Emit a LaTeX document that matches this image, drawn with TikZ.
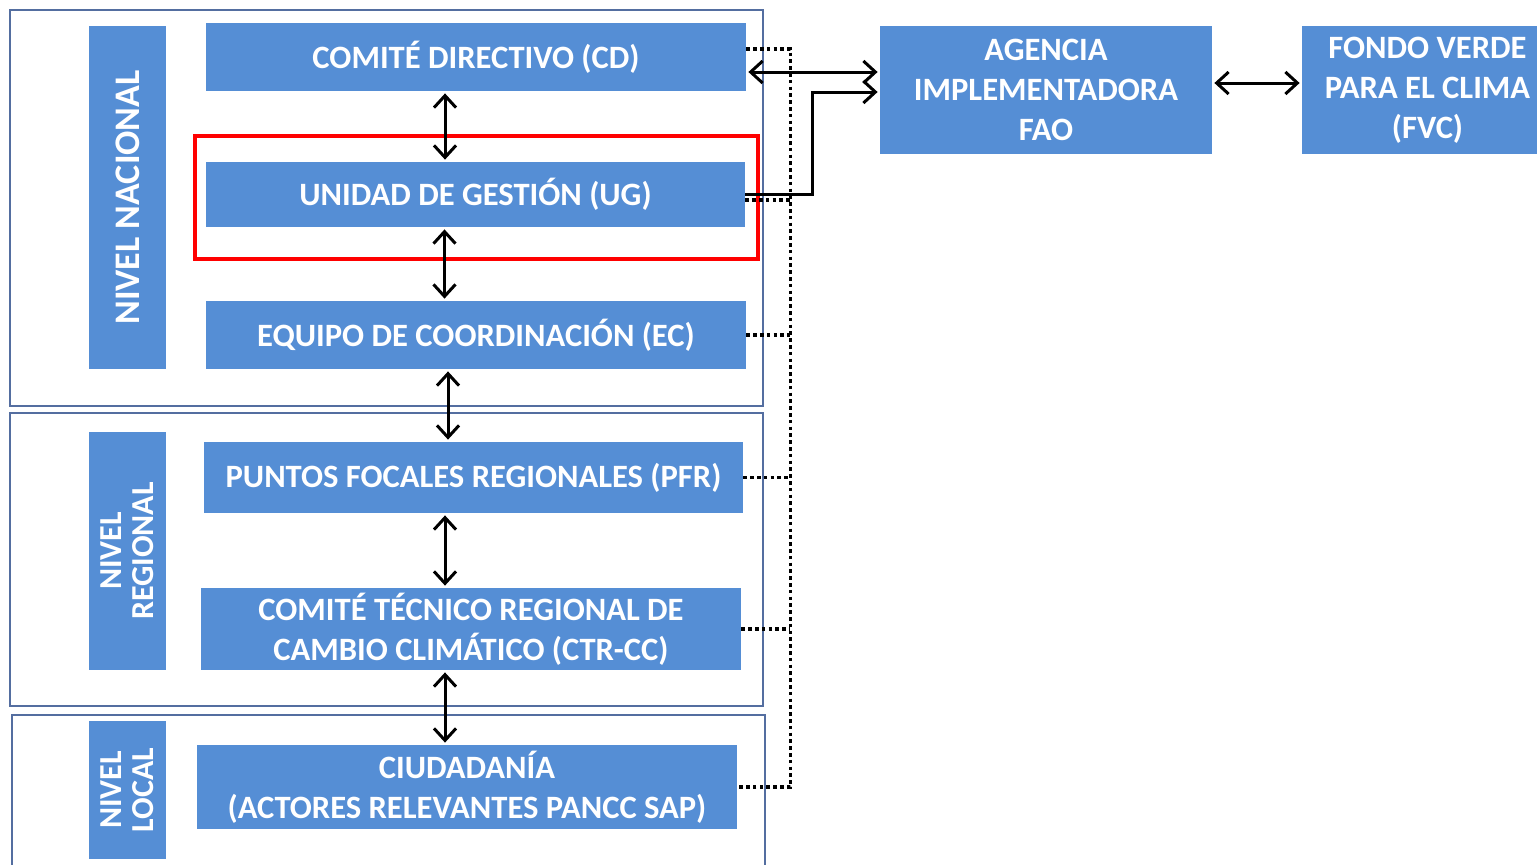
\documentclass[tikz,border=0pt]{standalone}
\usepackage{fontspec}
\setmainfont{Carlito}
\usetikzlibrary{arrows.meta}

\definecolor{azul}{RGB}{85,142,213}
\definecolor{marco}{RGB}{84,110,160}

\begin{document}
\begin{tikzpicture}[x=0.5pt,y=-0.5pt,line cap=butt]
	\tikzset{caja/.style={fill=azul,text=white,font=\bfseries\fontsize{16.3}{20}\selectfont,align=center,inner sep=0pt}};
	\tikzset{nivel/.style={caja,rotate=90,minimum height=38.5pt,font=\bfseries\fontsize{16}{16}\selectfont}};
	\tikzset{punta/.style={Straight Barb[length=6pt,width=11pt]}};
	\tikzset{flecha/.style={{Straight Barb[length=6pt,width=11pt]}-{Straight Barb[length=6pt,width=11pt]},line width=1.5pt,shorten <=1pt,shorten >=1pt}};
	\tikzset{punteado/.style={line width=1.8pt,dash pattern=on 1.8pt off 1.6pt}};
	\useasboundingbox (0,0) rectangle (1537,864);
	%% frames
	\draw[marco,line width=0.8pt] (10,10) rectangle (763,406);
	\draw[marco,line width=0.8pt] (10,413) rectangle (763,706);
	\draw[marco,line width=0.8pt] (12,870) -- (12,715) -- (765,715) -- (765,870);
	%% levels
	\node[nivel,minimum width=171.5pt,font=\bfseries\fontsize{18}{18}\selectfont] (nac) at (127.5,197.5) {NIVEL NACIONAL};
	\node[nivel,minimum width=119pt] (reg) at (127.5,551) {NIVEL\\REGIONAL};
	\node[nivel,minimum width=69pt] (loc) at (127.5,790) {NIVEL\\LOCAL};
	%% boxes
	\node[caja,minimum width=270pt,minimum height=34pt] (cd) at (476,57) {COMITÉ DIRECTIVO (CD)};
	\node[caja,minimum width=269.5pt,minimum height=32.5pt] (ug) at (475.5,194.5) {UNIDAD DE GESTIÓN (UG)};
	\node[caja,minimum width=270pt,minimum height=34pt] (ec) at (476,335) {EQUIPO DE COORDINACIÓN (EC)};
	\node[caja,minimum width=269.5pt,minimum height=35.5pt] (pfr) at (473.5,477.5) {PUNTOS FOCALES REGIONALES (PFR)};
	\node[caja,minimum width=270pt,minimum height=41pt] (ctr) at (471,629) {COMITÉ TÉCNICO REGIONAL DE\\CAMBIO CLIMÁTICO (CTR-CC)};
	\node[caja,minimum width=270pt,minimum height=42pt] (ciu) at (467,787) {CIUDADANÍA\\(ACTORES RELEVANTES PANCC SAP)};
	\node[caja,minimum width=166pt,minimum height=64pt] (ag) at (1046,90) {AGENCIA\\IMPLEMENTADORA\\FAO};
	\node[caja,minimum width=117.5pt,minimum height=64pt] (fvc) at (1419.5,90) {\hspace*{8pt}FONDO VERDE\\\hspace*{8pt}PARA EL CLIMA\\\hspace*{8pt}(FVC)};
	%% highlight
	\draw[red,line width=2.3pt] (195,136) rectangle (758,259);
	%% dotted bus
	\draw[punteado] ([yshift=4pt]cd.east) -- ++(22pt,0) coordinate (bt) -- (bt |- ciu.east) -- (ciu.east);
	\draw[punteado] ([yshift=-2.75pt]ug.east) -- ([yshift=-2.75pt]ug.east -| bt);
	\draw[punteado] (ec.east) -- (ec.east -| bt);
	\draw[punteado] (pfr.east) -- (pfr.east -| bt);
	\draw[punteado] (ctr.east) -- (ctr.east -| bt);
	%% vertical links
	\draw[flecha] ([xshift=-15.5pt]cd.south) -- ([xshift=-15.5pt]cd.south |- ug.north);
	\draw[flecha] ([xshift=-15.5pt]ug.south) -- ([xshift=-15.5pt]ug.south |- ec.north);
	\draw[flecha] ([xshift=-14pt]ec.south) -- ([xshift=-14pt]ec.south |- pfr.north);
	\draw[flecha] ([xshift=-14.25pt]pfr.south) -- ([xshift=-14.25pt]pfr.south |- ctr.north);
	\draw[flecha] ([xshift=-13pt]ctr.south) -- ([xshift=-13pt]ctr.south |- ciu.north);
	%% links to FAO and FVC
	\draw[flecha] ([yshift=-7.5pt]cd.east) -- ([yshift=-7.5pt]cd.east -| ag.west);
	\draw[line width=1.5pt,-{Straight Barb[length=6pt,width=11pt]},shorten >=1pt] (ug.east) -- ++(33.5pt,0) |- ([yshift=-1pt]ag.west);
	\draw[flecha] ([yshift=3.5pt]ag.east) -- ([yshift=3.5pt]fvc.west);
\end{tikzpicture}
\end{document}
